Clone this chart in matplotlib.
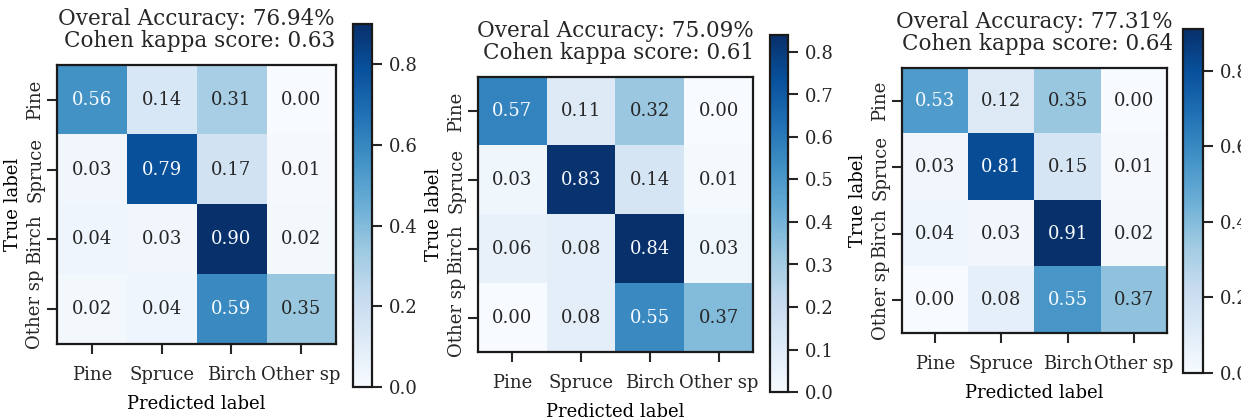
import numpy as np
import matplotlib
matplotlib.use("Agg")
import matplotlib.pyplot as plt
from matplotlib.ticker import MultipleLocator

plt.rcParams['font.family'] = ['DejaVu Serif']
plt.rcParams['text.color'] = '#262626'
plt.rcParams['xtick.color'] = '#262626'
plt.rcParams['ytick.color'] = '#262626'
plt.rcParams['axes.edgecolor'] = '#1a1a1a'

classes = ["Pine", "Spruce", "Birch", "Other sp"]

cm1 = [[0.56, 0.14, 0.31, 0.00],
       [0.03, 0.79, 0.17, 0.01],
       [0.04, 0.03, 0.90, 0.02],
       [0.02, 0.04, 0.59, 0.35]]
cm2 = [[0.57, 0.11, 0.32, 0.00],
       [0.03, 0.83, 0.14, 0.01],
       [0.06, 0.08, 0.84, 0.03],
       [0.00, 0.08, 0.55, 0.37]]
cm3 = [[0.53, 0.12, 0.35, 0.00],
       [0.03, 0.81, 0.15, 0.01],
       [0.04, 0.03, 0.91, 0.02],
       [0.00, 0.08, 0.55, 0.37]]

accuracies = ["76.94", "75.09", "77.31"]
kappas = ["0.63", "0.61", "0.64"]
cbar_steps = [0.2, 0.1, 0.2]
matrices = [cm1, cm2, cm3]

W, H = 1241, 419
fig = plt.figure(figsize=(W / 100, H / 100), dpi=100)

def rect(x0, y0, x1, y1):
    return [x0 / W, (H - y1) / H, (x1 - x0) / W, (y1 - y0) / H]

axes_px = [(57, 65, 336, 344), (478, 77, 753, 352), (902, 68, 1167, 333)]
cbar_px = [(353, 24, 372, 387), (770, 35, 788, 392), (1183, 29, 1203, 373)]

cmap = plt.get_cmap("Blues")
for cm, acc, kap, step, apx, cpx in zip(matrices, accuracies, kappas, cbar_steps,
                                       axes_px, cbar_px):
    cm = np.array(cm)
    ax = fig.add_axes(rect(*apx))
    cax = fig.add_axes(rect(*cpx))
    im = ax.imshow(cm, cmap=cmap, vmin=cm.min(), vmax=cm.max(),
                   interpolation="nearest", aspect="auto")
    thresh = (cm.max() + cm.min()) / 2.0
    for i in range(cm.shape[0]):
        for j in range(cm.shape[1]):
            color = '#f7fbff' if cm[i, j] > thresh else '#262626'
            ax.text(j, i, f"{cm[i, j]:.2f}", ha="center", va="center",
                    color=color, fontsize=13)
    ax.set_xticks(range(len(classes)))
    ax.set_yticks(range(len(classes)))
    ax.set_xticklabels(classes, fontsize=13)
    ax.set_yticklabels(classes, fontsize=13, rotation=90, va="center")
    ax.tick_params(axis='x', length=7, width=1.5, pad=9)
    ax.tick_params(axis='y', length=7, width=1.5, pad=2)
    ax.set_xlabel("Predicted label", fontsize=13, labelpad=8)
    ax.set_ylabel("True label", fontsize=13, labelpad=3)
    for s in ax.spines.values():
        s.set_linewidth(1.6)
    ax.set_title(f"Overal Accuracy: {acc}%\nCohen kappa score: {kap}",
                 fontsize=15.5, multialignment="right", pad=13, linespacing=1.0)
    cb = fig.colorbar(im, cax=cax)
    cb.outline.set_linewidth(1.6)
    cb.ax.yaxis.set_major_locator(MultipleLocator(step))
    cb.ax.tick_params(length=7, width=1.5, labelsize=13, pad=5)

fig.savefig("out.png", dpi=100)
